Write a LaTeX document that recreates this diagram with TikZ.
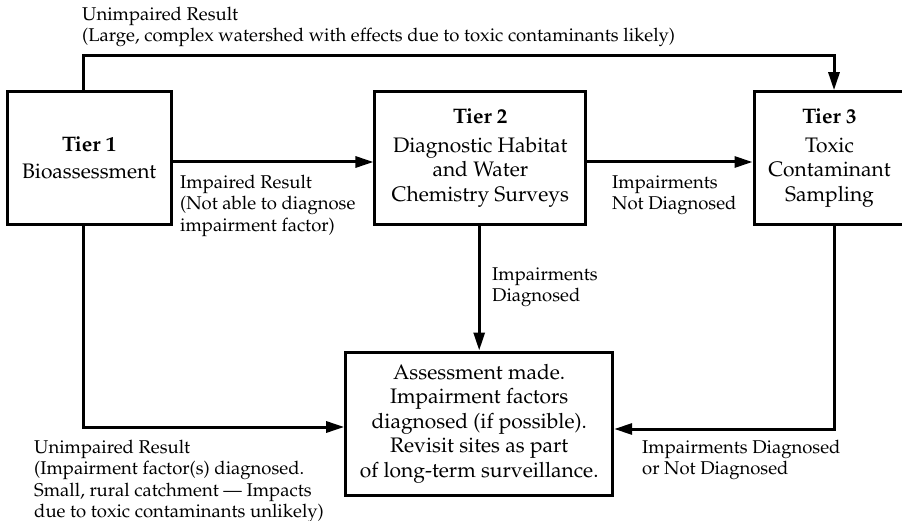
\documentclass[tikz,border=0pt]{standalone}
\usepackage[T1]{fontenc}
\usepackage{mathpazo}
\usetikzlibrary{arrows.meta}
\begin{document}
\begin{tikzpicture}[x=1pt,y=-1pt,
  box/.style={draw, line width=3pt, align=center, inner sep=0pt,
    font=\fontsize{21}{24.5}\selectfont},
  % labels are placed by the baseline of their first line
  lbl/.style={anchor=north west, align=left, inner sep=0pt, yshift=14.91pt,
    font=\fontsize{18.5}{21.3}\selectfont, execute at begin node=\strut},
  conn/.style={line width=3pt, -{Triangle[length=18pt,width=11pt]}}]
\useasboundingbox (0,0) rectangle (902,521);

% tier boxes
\node[box, minimum width=163.7pt, minimum height=132.6pt] (t1) at (89.2,158)
  {\textbf{Tier 1}\\[3pt] Bioassessment};
\node[box, minimum width=210.7pt, minimum height=132.6pt] (t2) at (480.3,158)
  {\textbf{Tier 2}\\[4pt] Diagnostic Habitat\\ and Water\\ Chemistry Surveys};
\node[box, minimum width=151pt, minimum height=132.6pt] (t3) at (829.5,158)
  {\textbf{Tier 3}\\[4pt] Toxic\\ Contaminant\\ Sampling};
\node[box, minimum width=267pt, minimum height=143pt] (asm) at (479.2,423.5)
  {Assessment made.\\ Impairment factors\\ diagnosed (if possible).\\
   Revisit sites as part\\ of long-term surveillance.};

% connectors
\draw[conn] ([xshift=-6.2pt]t1.north) -- ++(0,-35) -| ([xshift=4.5pt]t3.north);
\draw[conn] ([yshift=-4pt]t1.east) -- ([yshift=-4pt]t2.west);
\draw[conn] ([yshift=-4pt]t2.east) -- ([yshift=-4pt]t3.west);
\draw[conn] (t2.south -| asm.north) -- (asm.north);
\draw[conn] ([xshift=-6.2pt]t1.south) |- ([yshift=-3.5pt]asm.west);
\draw[conn] ([xshift=4.5pt]t3.south) |- ([yshift=-5.5pt]asm.east);

% connector labels
\node[lbl] (ltop) at (82,22)
  {Unimpaired Result\\ (Large, complex watershed with effects due to toxic contaminants likely)};
\node[lbl] (limp) at (180,190)
  {Impaired Result\\ (Not able to diagnose\\ impairment factor)};
\node[lbl] (lnd) at (612,190) {Impairments\\ Not Diagnosed};
\node[lbl] (ld) at (492,282) {Impairments\\ Diagnosed};
\node[lbl] (lunimp) at (34,455)
  {Unimpaired Result\\ (Impairment factor(s) diagnosed.\\
   Small, rural catchment --- Impacts\\ due to toxic contaminants unlikely)};
\node[lbl] (lboth) at (642,455) {Impairments Diagnosed\\ or Not Diagnosed};
\end{tikzpicture}
\end{document}
